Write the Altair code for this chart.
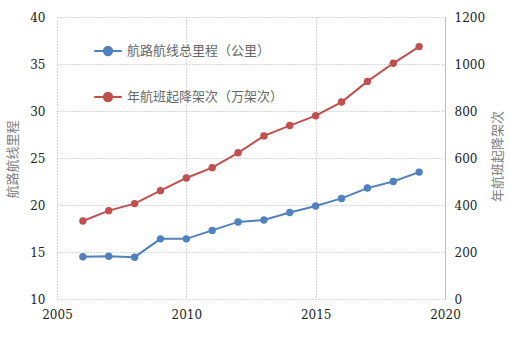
import altair as alt
import pandas as pd

years = list(range(2006, 2020))
route_km = [14.5, 14.55, 14.45, 16.4, 16.4, 17.3, 18.2, 18.4, 19.2, 19.9, 20.7, 21.8, 22.5, 23.5]
flights = [332, 376, 406, 461, 515, 559, 622, 694, 738, 780, 838, 926, 1003, 1074]

name_a = "航路航线总里程（公里）"
name_b = "年航班起降架次（万架次）"
left_title = "航路航线里程"
right_title = "年航班起降架次"

df = pd.DataFrame({"year": years, "km": route_km, "flights": flights})

color_scale = alt.Scale(domain=[name_a, name_b], range=["#4F81BD", "#C0504D"])
grid_dash = [1, 2]
cjk = "Noto Sans CJK SC"
serif = "DejaVu Serif"

xenc = alt.X("year:Q", scale=alt.Scale(domain=[2005, 2020], nice=False),
             axis=alt.Axis(values=[2005, 2010, 2015, 2020], format="d", title=None,
                           grid=True, gridDash=grid_dash, gridColor="#b0b0b0",
                           domain=False, ticks=False, labelPadding=10,
                           labelFlush=False))

legend = alt.Legend(
    title=None, orient="none", legendX=36, legendY=19,
    symbolType="M-1,0H1M-0.3,0A0.3,0.3 0 1,1 0.3,0A0.3,0.3 0 1,1 -0.3,0Z",
    symbolSize=760, symbolStrokeWidth=2, rowPadding=22, labelOffset=4,
    labelFont=cjk, labelFontSize=13, labelColor="#666",
)

left = alt.Chart(df).mark_line(
    point=alt.OverlayMarkDef(filled=True, size=55, opacity=1), strokeWidth=2
).encode(
    x=xenc,
    y=alt.Y("km:Q", scale=alt.Scale(domain=[10, 40], nice=False),
            axis=alt.Axis(values=[10, 15, 20, 25, 30, 35, 40], title=left_title,
                          grid=True, gridDash=grid_dash, gridColor="#b0b0b0",
                          domain=False, ticks=False, labelPadding=12, format="d",
                          titleAngle=270,
                          titleX=-45, titleY=142, titleAlign="center",
                          titleBaseline="middle")),
    color=alt.Color("s:N", scale=color_scale, legend=legend),
).transform_calculate(s=f"'{name_a}'")

right = alt.Chart(df).mark_line(
    point=alt.OverlayMarkDef(filled=True, size=55, opacity=1), strokeWidth=2
).encode(
    x=xenc,
    y=alt.Y("flights:Q", scale=alt.Scale(domain=[0, 1200], nice=False),
            axis=alt.Axis(values=[0, 200, 400, 600, 800, 1000, 1200], title=right_title,
                          orient="right", grid=False, domain=True, domainColor="#c0c0c0",
                          ticks=False, labelPadding=9, format="d",
                          titleAngle=270,
                          titleX=52, titleY=139, titleAlign="center",
                          titleBaseline="middle")),
    color=alt.Color("s:N", scale=color_scale, legend=legend),
).transform_calculate(s=f"'{name_b}'")

chart = alt.layer(left, right).resolve_scale(y="independent").properties(
    width=388, height=282,
    autosize=alt.AutoSizeParams(type="none"),
    padding={"left": 57, "top": 17, "right": 65, "bottom": 42},
    background="white",
).configure_view(stroke=None).configure_axis(
    labelFont=serif, labelFontSize=12, labelColor="#222",
    titleFont=cjk, titleFontSize=13, titleColor="#808080", titleFontWeight="normal",
)

chart.save("out.html", embed_options={"renderer": "svg", "actions": False})
